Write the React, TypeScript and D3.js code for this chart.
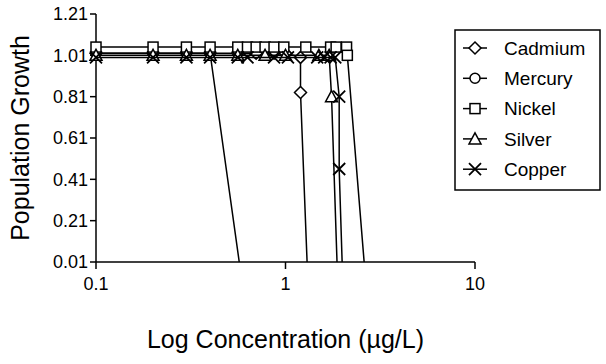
import React, { useEffect, useRef } from 'react';
import * as d3 from 'd3';

const yTicks = [0.01, 0.21, 0.41, 0.61, 0.81, 1.01, 1.21];
const xTicks = [0.1, 1, 10];

const cadmiumX = [0.1, 0.2, 0.3, 0.4, 0.56, 0.7, 0.87, 1.0, 1.2, 1.2, 1.3];
const cadmiumY = [1.02, 1.02, 1.02, 1.02, 1.02, 1.02, 1.02, 1.02, 1.0, 0.83, 0.01];

const mercuryX = [0.1, 0.2, 0.3, 0.4, 0.57];
const mercuryY = [1.02, 1.02, 1.02, 1.02, 0.01];

const nickelX = [0.1, 0.2, 0.3, 0.4, 0.56, 0.63, 0.7, 0.78, 0.87, 0.98, 1.28, 1.73, 1.85, 2.1, 2.12, 2.6];
const nickelY = [1.05, 1.05, 1.05, 1.05, 1.05, 1.05, 1.05, 1.05, 1.05, 1.05, 1.05, 1.05, 1.05, 1.05, 1.01, 0.01];

const silverX = [0.1, 0.2, 0.3, 0.4, 0.56, 0.78, 1.0, 1.5, 1.7, 1.75, 1.87];
const silverY = [1.01, 1.01, 1.01, 1.01, 1.01, 1.01, 1.01, 1.01, 1.01, 0.81, 0.01];

const copperX = [0.1, 0.2, 0.3, 0.4, 0.56, 0.63, 0.87, 1.03, 1.47, 1.6, 1.73, 1.83, 1.92, 1.92, 1.99];
const copperY = [1.0, 1.0, 1.0, 1.0, 1.0, 1.0, 1.0, 1.0, 1.0, 1.0, 1.0, 1.0, 0.81, 0.46, 0.01];

const seriesNames = ['Cadmium', 'Mercury', 'Nickel', 'Silver', 'Copper'];
const seriesX = [cadmiumX, mercuryX, nickelX, silverX, copperX];
const seriesY = [cadmiumY, mercuryY, nickelY, silverY, copperY];
const seriesMarker = ['diamond', 'circle', 'square', 'triangle', 'cross'];

const FONT = '"Liberation Sans", Arial, sans-serif';

// draws one marker centred on 0,0
function drawMarker(g: d3.Selection<SVGGElement, unknown, null, undefined>, kind: string) {
  const stroke = '#000';
  if (kind === 'diamond') {
    g.append('path').attr('d', 'M0,-6L6,0L0,6L-6,0Z').attr('fill', '#fff').attr('stroke', stroke).attr('stroke-width', 1.5);
  } else if (kind === 'circle') {
    g.append('circle').attr('r', 5).attr('fill', '#fff').attr('stroke', stroke).attr('stroke-width', 1.5);
  } else if (kind === 'square') {
    g.append('rect').attr('x', -5).attr('y', -5).attr('width', 10).attr('height', 10).attr('fill', '#fff').attr('stroke', stroke).attr('stroke-width', 1.5);
  } else if (kind === 'triangle') {
    g.append('path').attr('d', 'M0,-6L6,5L-6,5Z').attr('fill', '#fff').attr('stroke', stroke).attr('stroke-width', 1.5);
  } else {
    g.append('path').attr('d', 'M-6,-6L6,6M-6,6L6,-6').attr('fill', 'none').attr('stroke', stroke).attr('stroke-width', 1.8);
  }
}

const App: React.FC = () => {
  const svgRef = useRef<SVGSVGElement>(null);

  useEffect(() => {
    const width = 606;
    const height = 364;
    const left = 96;
    const right = 475;
    const top = 14;
    const bottom = 262;

    const svg = d3.select(svgRef.current);
    svg.selectAll('*').remove();
    svg.attr('width', width).attr('height', height);
    svg.append('rect').attr('width', width).attr('height', height).attr('fill', '#fff');

    const x = d3.scaleLog().domain([0.1, 10]).range([left, right]);
    const y = d3.scaleLinear().domain([0.01, 1.21]).range([bottom, top]);

    // y axis
    const yAxis = svg.append('g');
    yAxis.append('line').attr('x1', left).attr('x2', left).attr('y1', top).attr('y2', bottom).attr('stroke', '#000').attr('stroke-width', 1.5);
    yTicks.forEach(t => {
      yAxis.append('line').attr('x1', left - 6).attr('x2', left).attr('y1', y(t)).attr('y2', y(t)).attr('stroke', '#000').attr('stroke-width', 1.5);
      yAxis.append('text').attr('x', left - 8).attr('y', y(t)).attr('dy', '0.36em')
        .attr('text-anchor', 'end').attr('font-family', FONT).attr('font-size', 18).text(t.toFixed(2));
    });

    // x axis
    const xAxis = svg.append('g');
    xAxis.append('line').attr('x1', left).attr('x2', right).attr('y1', bottom).attr('y2', bottom).attr('stroke', '#000').attr('stroke-width', 1.5);
    xTicks.forEach(t => {
      xAxis.append('line').attr('x1', x(t)).attr('x2', x(t)).attr('y1', bottom).attr('y2', bottom + 7).attr('stroke', '#000').attr('stroke-width', 1.5);
      xAxis.append('text').attr('x', x(t)).attr('y', bottom + 28)
        .attr('text-anchor', 'middle').attr('font-family', FONT).attr('font-size', 18).text(String(t));
    });

    svg.append('text').attr('x', (left + right) / 2).attr('y', 348).attr('text-anchor', 'middle')
      .attr('font-family', FONT).attr('font-size', 25).text('Log Concentration (µg/L)');
    svg.append('text').attr('transform', `translate(29,${(top + bottom) / 2}) rotate(-90)`).attr('text-anchor', 'middle')
      .attr('font-family', FONT).attr('font-size', 25).text('Population Growth');

    // series; the last point of each sits on the axis and shows no marker
    const line = d3.line<[number, number]>().x(d => x(d[0])).y(d => y(d[1]));
    seriesNames.forEach((name, i) => {
      const pts: [number, number][] = seriesX[i].map((v, j) => [v, seriesY[i][j]]);
      const g = svg.append('g').attr('class', name);
      g.append('path').attr('d', line(pts) || '').attr('fill', 'none').attr('stroke', '#000').attr('stroke-width', 1.5);
      pts.filter(p => p[1] > 0.05).forEach(p => {
        const m = g.append('g').attr('transform', `translate(${x(p[0])},${y(p[1])})`);
        drawMarker(m, seriesMarker[i]);
      });
    });

    // legend
    const legend = svg.append('g');
    legend.append('rect').attr('x', 455).attr('y', 30).attr('width', 145).attr('height', 160)
      .attr('fill', '#fff').attr('stroke', '#000').attr('stroke-width', 1.5);
    seriesNames.forEach((name, i) => {
      const ly = 48 + i * 30.3;
      legend.append('line').attr('x1', 463).attr('x2', 487).attr('y1', ly).attr('y2', ly).attr('stroke', '#000').attr('stroke-width', 1.5);
      const m = legend.append('g').attr('transform', `translate(475,${ly})`);
      drawMarker(m, seriesMarker[i]);
      legend.append('text').attr('x', 504).attr('y', ly).attr('dy', '0.36em')
        .attr('font-family', FONT).attr('font-size', 19).text(name);
    });
  }, []);

  return <svg ref={svgRef} style={{ position: 'absolute', left: 0, top: 0 }} />;
};

export default App;
